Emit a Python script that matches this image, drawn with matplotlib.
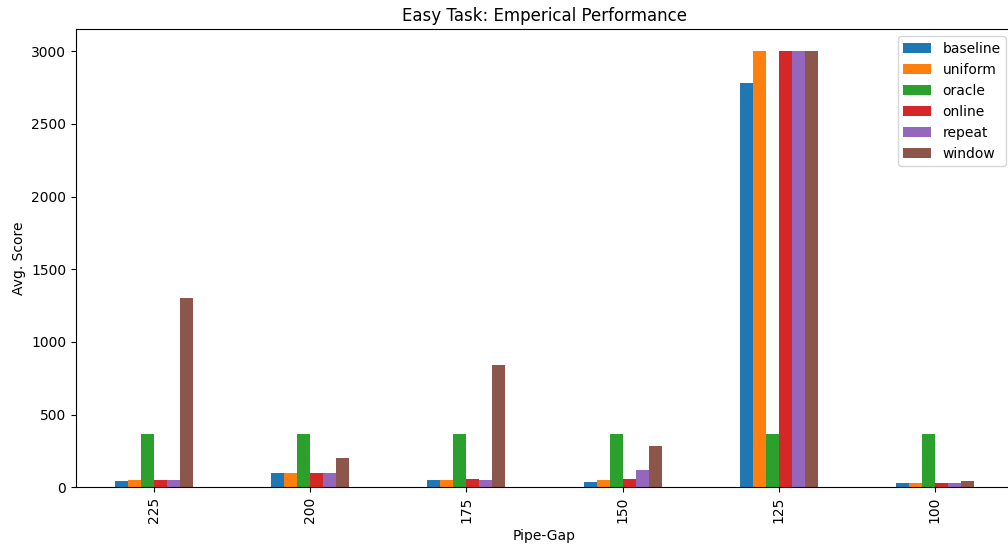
import numpy as np
import pandas as pd
import matplotlib
matplotlib.use("Agg")
import matplotlib.pyplot as plt

pipe_gap = ["225", "200", "175", "150", "125", "100"]

baseline = [40, 96, 50, 38, 2778, 30]
uniform = [50, 96, 50, 50, 3000, 30]
oracle = [365, 365, 365, 365, 366, 365]
online = [50, 96, 59, 59, 3000, 30]
repeat = [50, 96, 50, 116, 3000, 30]
window = [1300, 203, 838, 287, 3000, 41]

df = pd.DataFrame({
    "baseline": baseline,
    "uniform": uniform,
    "oracle": oracle,
    "online": online,
    "repeat": repeat,
    "window": window,
}, index=pipe_gap)

fig = plt.figure(figsize=(10.08, 5.44), dpi=100)
# axes run slightly past the right edge, like the cropped original
ax = fig.add_axes([76 / 1008, 1 - 487.3 / 544, 937 / 1008, (487.3 - 29.3) / 544])

df.plot.bar(ax=ax)
ax.set_title("Easy Task: Emperical Performance")
ax.set_xlabel("Pipe-Gap")
ax.set_ylabel("Avg. Score")
ax.legend(loc="upper right")

fig.savefig("out.png", dpi=100)
